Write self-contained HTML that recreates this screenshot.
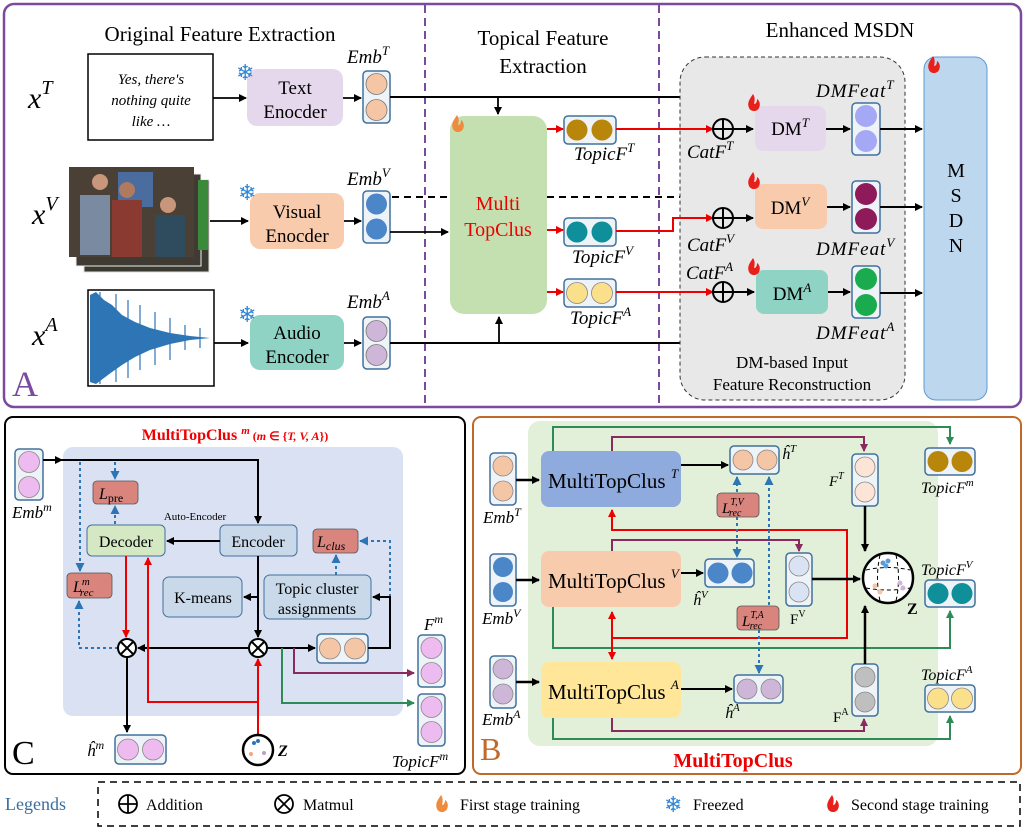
<!DOCTYPE html>
<html><head><meta charset="utf-8"><style>
html,body{margin:0;padding:0;background:#fff;}
svg{display:block;}
text{font-family:"Liberation Serif",serif;}
.it{font-style:italic;}
</style></head><body>
<svg width="1025" height="831" viewBox="0 0 1025 831" xmlns="http://www.w3.org/2000/svg">
<defs>
<marker id="ak" markerWidth="8" markerHeight="8" refX="7" refY="4" orient="auto" markerUnits="userSpaceOnUse"><path d="M0,0L8,4L0,8z" fill="#000"/></marker>
<marker id="ar" markerWidth="8" markerHeight="8" refX="7" refY="4" orient="auto" markerUnits="userSpaceOnUse"><path d="M0,0L8,4L0,8z" fill="#e00"/></marker>
<marker id="arS" markerWidth="8" markerHeight="8" refX="1" refY="4" orient="auto" markerUnits="userSpaceOnUse"><path d="M8,0L0,4L8,8z" fill="#e00"/></marker>
<marker id="ab" markerWidth="9" markerHeight="9" refX="8" refY="4.5" orient="auto" markerUnits="userSpaceOnUse"><path d="M0,0L9,4.5L0,9z" fill="#2e75b6"/></marker>
<marker id="abS" markerWidth="9" markerHeight="9" refX="1" refY="4.5" orient="auto" markerUnits="userSpaceOnUse"><path d="M9,0L0,4.5L9,9z" fill="#2e75b6"/></marker>
<marker id="ap" markerWidth="8" markerHeight="8" refX="7" refY="4" orient="auto" markerUnits="userSpaceOnUse"><path d="M0,0L8,4L0,8z" fill="#8b2a5e"/></marker>
<marker id="ag" markerWidth="8" markerHeight="8" refX="7" refY="4" orient="auto" markerUnits="userSpaceOnUse"><path d="M0,0L8,4L0,8z" fill="#2e8b57"/></marker>
<g id="flame"><path d="M6,0 C2,6 0,9 2,14 C4,18 10,18 12,14 C14,10 12,6 10,5 C10,8 9,10 7,10 C8,6 8,3 6,0z" fill="#e8201b"/></g>
<g id="flameo"><path d="M6,0 C2,6 0,9 2,14 C4,18 10,18 12,14 C14,10 12,6 10,5 C10,8 9,10 7,10 C8,6 8,3 6,0z" fill="#f08a3c"/></g>
</defs>

<!-- ============ PANEL A ============ -->
<rect x="4" y="4" width="1017" height="403" rx="10" fill="#fff" stroke="#7a4a9e" stroke-width="2.5"/>
<line x1="425" y1="5" x2="425" y2="406" stroke="#7a4a9e" stroke-width="2" stroke-dasharray="8,5"/>
<line x1="659" y1="5" x2="659" y2="406" stroke="#7a4a9e" stroke-width="2" stroke-dasharray="8,5"/>
<text x="220" y="41" font-size="21" text-anchor="middle">Original Feature Extraction</text>
<text x="543" y="45" font-size="21" text-anchor="middle">Topical Feature</text>
<text x="543" y="73" font-size="21" text-anchor="middle">Extraction</text>
<text x="840" y="37" font-size="21" text-anchor="middle">Enhanced MSDN</text>
<text x="12" y="396" font-size="36" fill="#7a4a9e">A</text>

<text x="28" y="108" font-size="30" class="it">x<tspan font-size="20" dy="-14">T</tspan></text>
<text x="32" y="224" font-size="30" class="it">x<tspan font-size="20" dy="-14">V</tspan></text>
<text x="32" y="345" font-size="30" class="it">x<tspan font-size="20" dy="-14">A</tspan></text>

<!-- text input -->
<rect x="88" y="54" width="125" height="86" fill="#fff" stroke="#000" stroke-width="1.5"/>
<text x="151" y="84" font-size="15" class="it" text-anchor="middle">Yes, there's</text>
<text x="151" y="105" font-size="15" class="it" text-anchor="middle">nothing quite</text>
<text x="151" y="126" font-size="15" class="it" text-anchor="middle">like …</text>
<line x1="213" y1="98" x2="246" y2="98" stroke="#000" stroke-width="1.8" marker-end="url(#ak)"/>
<rect x="247" y="69" width="96" height="57" rx="10" fill="#e6d8ec"/>
<text x="295" y="94" font-size="19" text-anchor="middle">Text</text>
<text x="295" y="118" font-size="19" text-anchor="middle">Enocder</text>
<text x="236" y="80" font-size="22" fill="#2e86d6">❄</text>

<!-- video -->
<rect x="84" y="180" width="125" height="92" fill="#3a3a30" stroke="#ddd"/>
<rect x="76" y="174" width="125" height="92" fill="#3f3a32" stroke="#eee"/>
<rect x="69" y="167" width="125" height="90" fill="#4a4036"/>
<rect x="118" y="172" width="35" height="35" fill="#4a6c9e"/>
<rect x="80" y="195" width="30" height="60" fill="#7a8aa0"/>
<rect x="112" y="200" width="30" height="57" fill="#8a3a30"/>
<rect x="155" y="215" width="30" height="42" fill="#2e4c5e"/>
<circle cx="100" cy="182" r="8" fill="#c8967a"/><circle cx="127" cy="190" r="8" fill="#b07a60"/><circle cx="168" cy="205" r="8" fill="#c8967a"/>
<rect x="198" y="180" width="10" height="70" fill="#3a8a3a"/>
<line x1="210" y1="221" x2="248" y2="221" stroke="#000" stroke-width="1.8" marker-end="url(#ak)"/>
<rect x="250" y="193" width="94" height="56" rx="10" fill="#f8cbad"/>
<text x="297" y="218" font-size="19" text-anchor="middle">Visual</text>
<text x="297" y="242" font-size="19" text-anchor="middle">Enocder</text>
<text x="238" y="200" font-size="22" fill="#2e86d6">❄</text>

<!-- audio -->
<rect x="88" y="290" width="126" height="96" fill="#fff" stroke="#000" stroke-width="1.5"/>
<path d="M90,295 L96,292 L104,300 L112,305 L122,315 L135,322 L150,328 L170,333 L190,336 L210,338 L190,340 L170,344 L150,350 L135,357 L122,365 L112,372 L104,378 L96,384 L90,382 Z" fill="#2e75b6"/>
<g stroke="#2e75b6" stroke-width="1.2">
<line x1="100" y1="292" x2="100" y2="384"/><line x1="116" y1="294" x2="116" y2="382"/><line x1="128" y1="300" x2="128" y2="378"/><line x1="140" y1="305" x2="140" y2="370"/><line x1="155" y1="312" x2="155" y2="365"/><line x1="170" y1="318" x2="170" y2="360"/><line x1="185" y1="325" x2="185" y2="350"/><line x1="200" y1="328" x2="200" y2="348"/>
</g>
<line x1="214" y1="343" x2="248" y2="343" stroke="#000" stroke-width="1.8" marker-end="url(#ak)"/>
<rect x="250" y="315" width="94" height="55" rx="10" fill="#8fd3c4"/>
<text x="297" y="339" font-size="19" text-anchor="middle">Audio</text>
<text x="297" y="363" font-size="19" text-anchor="middle">Encoder</text>
<text x="238" y="322" font-size="22" fill="#2e86d6">❄</text>

<!-- Emb vectors A -->
<line x1="343" y1="98" x2="361" y2="98" stroke="#000" stroke-width="1.8" marker-end="url(#ak)"/>
<line x1="344" y1="221" x2="361" y2="221" stroke="#000" stroke-width="1.8" marker-end="url(#ak)"/>
<line x1="344" y1="343" x2="361" y2="343" stroke="#000" stroke-width="1.8" marker-end="url(#ak)"/>
<text x="347" y="63" font-size="19" class="it">Emb<tspan font-size="13" dy="-8">T</tspan></text>
<text x="347" y="185" font-size="19" class="it">Emb<tspan font-size="13" dy="-8">V</tspan></text>
<text x="347" y="308" font-size="19" class="it">Emb<tspan font-size="13" dy="-8">A</tspan></text>
<rect x="363" y="71" width="27" height="52" rx="4" fill="#eef3f8" stroke="#41719c" stroke-width="1.5"/>
<circle cx="376.5" cy="84" r="10.5" fill="#f5c6a5" stroke="#777" stroke-width=".8"/><circle cx="376.5" cy="110" r="10.5" fill="#f5c6a5" stroke="#777" stroke-width=".8"/>
<rect x="363" y="191" width="27" height="52" rx="4" fill="#eef3f8" stroke="#41719c" stroke-width="1.5"/>
<circle cx="376.5" cy="204" r="10.5" fill="#4a86c8"/><circle cx="376.5" cy="229" r="10.5" fill="#4a86c8"/>
<rect x="363" y="317" width="27" height="52" rx="4" fill="#eef3f8" stroke="#41719c" stroke-width="1.5"/>
<circle cx="376.5" cy="331" r="10.5" fill="#cdb6d8" stroke="#777" stroke-width=".8"/><circle cx="376.5" cy="355" r="10.5" fill="#cdb6d8" stroke="#777" stroke-width=".8"/>

<!-- MultiTopClus A -->
<rect x="450" y="116" width="97" height="198" rx="14" fill="#c5e0b0"/>
<text x="498" y="210" font-size="20" fill="#e00" text-anchor="middle">Multi</text>
<text x="498" y="236" font-size="20" fill="#e00" text-anchor="middle">TopClus</text>
<use href="#flameo" x="451" y="115"/>
<polyline points="390,97 723,97 723,119" fill="none" stroke="#000" stroke-width="2" marker-end="url(#ak)"/>
<line x1="498" y1="97" x2="498" y2="114" stroke="#000" stroke-width="1.8" marker-end="url(#ak)"/>
<line x1="392" y1="197" x2="448" y2="197" stroke="#000" stroke-width="2" stroke-dasharray="7,5"/>
<line x1="547" y1="197" x2="723" y2="197" stroke="#000" stroke-width="2" stroke-dasharray="7,5"/>
<line x1="723" y1="197" x2="723" y2="208" stroke="#666" stroke-width="1.2" marker-end="url(#ak)"/>
<line x1="390" y1="232" x2="448" y2="232" stroke="#000" stroke-width="1.8" marker-end="url(#ak)"/>
<polyline points="390,343 723,343 723,302" fill="none" stroke="#000" stroke-width="2" marker-end="url(#ak)"/>
<line x1="499" y1="343" x2="499" y2="317" stroke="#000" stroke-width="1.8" marker-end="url(#ak)"/>

<!-- TopicF A -->
<line x1="547" y1="129" x2="563" y2="129" stroke="#e00" stroke-width="2" marker-end="url(#ar)"/>
<line x1="547" y1="230" x2="563" y2="230" stroke="#e00" stroke-width="2" marker-end="url(#ar)"/>
<line x1="547" y1="292" x2="563" y2="292" stroke="#e00" stroke-width="2" marker-end="url(#ar)"/>
<rect x="564" y="116" width="52" height="28" rx="4" fill="#eef3f8" stroke="#41719c" stroke-width="1.5"/>
<circle cx="577" cy="130" r="10.5" fill="#b8860b"/><circle cx="602" cy="130" r="10.5" fill="#b8860b"/>
<rect x="564" y="218" width="52" height="28" rx="4" fill="#eef3f8" stroke="#41719c" stroke-width="1.5"/>
<circle cx="577" cy="232" r="10.5" fill="#0e8f9a"/><circle cx="602" cy="232" r="10.5" fill="#0e8f9a"/>
<rect x="564" y="279" width="52" height="28" rx="4" fill="#eef3f8" stroke="#41719c" stroke-width="1.5"/>
<circle cx="577" cy="293" r="10.5" fill="#fbe08c" stroke="#888" stroke-width=".8"/><circle cx="602" cy="293" r="10.5" fill="#fbe08c" stroke="#888" stroke-width=".8"/>
<text x="574" y="160" font-size="19" class="it">TopicF<tspan font-size="13" dy="-8">T</tspan></text>
<text x="572" y="263" font-size="19" class="it">TopicF<tspan font-size="13" dy="-8">V</tspan></text>
<text x="570" y="324" font-size="19" class="it">TopicF<tspan font-size="13" dy="-8">A</tspan></text>

<!-- Enhanced MSDN -->
<rect x="680" y="57" width="225" height="343" rx="25" fill="#e8e8e8" stroke="#333" stroke-width="1" stroke-dasharray="4,3"/>
<line x1="616" y1="129" x2="713" y2="129" stroke="#e00" stroke-width="2" marker-end="url(#ar)"/>
<polyline points="616,231 673,231 673,218 713,218" fill="none" stroke="#e00" stroke-width="2" marker-end="url(#ar)"/>
<line x1="616" y1="292" x2="713" y2="292" stroke="#e00" stroke-width="2" marker-end="url(#ar)"/>
<g fill="none" stroke="#000" stroke-width="2">
<circle cx="723" cy="129" r="10"/><line x1="713" y1="129" x2="733" y2="129"/><line x1="723" y1="119" x2="723" y2="139"/>
<circle cx="723" cy="218" r="10"/><line x1="713" y1="218" x2="733" y2="218"/><line x1="723" y1="208" x2="723" y2="228"/>
<circle cx="723" cy="292" r="10"/><line x1="713" y1="292" x2="733" y2="292"/><line x1="723" y1="282" x2="723" y2="302"/>
</g>
<text x="687" y="158" font-size="19" class="it">CatF<tspan font-size="13" dy="-8">T</tspan></text>
<text x="687" y="251" font-size="19" class="it">CatF<tspan font-size="13" dy="-8">V</tspan></text>
<text x="686" y="279" font-size="19" class="it">CatF<tspan font-size="13" dy="-8">A</tspan></text>
<line x1="733" y1="129" x2="753" y2="129" stroke="#000" stroke-width="2" marker-end="url(#ak)"/>
<line x1="733" y1="218" x2="753" y2="218" stroke="#000" stroke-width="2" marker-end="url(#ak)"/>
<line x1="733" y1="292" x2="754" y2="292" stroke="#000" stroke-width="2" marker-end="url(#ak)"/>
<rect x="755" y="106" width="71" height="45" rx="8" fill="#e6d8ec"/>
<rect x="755" y="184" width="72" height="45" rx="8" fill="#f8cbad"/>
<rect x="756" y="270" width="72" height="44" rx="8" fill="#8fd3c4"/>
<text x="790" y="135" font-size="19" text-anchor="middle">DM<tspan font-size="13" dy="-8" class="it">T</tspan></text>
<text x="790" y="214" font-size="19" text-anchor="middle">DM<tspan font-size="13" dy="-8" class="it">V</tspan></text>
<text x="792" y="300" font-size="19" text-anchor="middle">DM<tspan font-size="13" dy="-8" class="it">A</tspan></text>
<use href="#flame" x="747" y="94"/><use href="#flame" x="747" y="172"/><use href="#flame" x="747" y="258"/>
<line x1="826" y1="129" x2="850" y2="129" stroke="#000" stroke-width="2" marker-end="url(#ak)"/>
<line x1="827" y1="207" x2="850" y2="207" stroke="#000" stroke-width="2" marker-end="url(#ak)"/>
<line x1="828" y1="292" x2="850" y2="292" stroke="#000" stroke-width="2" marker-end="url(#ak)"/>
<rect x="852" y="103" width="28" height="52" rx="4" fill="#eef3f8" stroke="#41719c" stroke-width="1.5"/>
<circle cx="866" cy="116" r="11" fill="#a5a8f5"/><circle cx="866" cy="141" r="11" fill="#a5a8f5"/>
<rect x="852" y="181" width="28" height="52" rx="4" fill="#eef3f8" stroke="#41719c" stroke-width="1.5"/>
<circle cx="866" cy="194" r="11" fill="#8e1a5a"/><circle cx="866" cy="219" r="11" fill="#8e1a5a"/>
<rect x="852" y="266" width="28" height="52" rx="4" fill="#eef3f8" stroke="#41719c" stroke-width="1.5"/>
<circle cx="866" cy="279" r="11" fill="#1aab4f"/><circle cx="866" cy="305" r="11" fill="#1aab4f"/>
<text x="816" y="97" font-size="19" class="it" letter-spacing="1">DMFeat<tspan font-size="13" dy="-8">T</tspan></text>
<text x="816" y="255" font-size="19" class="it" letter-spacing="1">DMFeat<tspan font-size="13" dy="-8">V</tspan></text>
<text x="816" y="339" font-size="19" class="it" letter-spacing="1">DMFeat<tspan font-size="13" dy="-8">A</tspan></text>
<text x="792" y="368" font-size="17" text-anchor="middle">DM-based Input</text>
<text x="792" y="390" font-size="17" text-anchor="middle">Feature Reconstruction</text>
<line x1="880" y1="129" x2="922" y2="129" stroke="#000" stroke-width="2" marker-end="url(#ak)"/>
<line x1="880" y1="207" x2="922" y2="207" stroke="#000" stroke-width="2" marker-end="url(#ak)"/>
<line x1="880" y1="293" x2="922" y2="293" stroke="#000" stroke-width="2" marker-end="url(#ak)"/>
<rect x="924" y="57" width="63" height="343" rx="12" fill="#bdd7ee" stroke="#5b9bd5" stroke-width="1"/>
<use href="#flame" x="927" y="56"/>
<text x="956" y="177" font-size="20" text-anchor="middle">M</text>
<text x="956" y="202" font-size="20" text-anchor="middle">S</text>
<text x="956" y="227" font-size="20" text-anchor="middle">D</text>
<text x="956" y="252" font-size="20" text-anchor="middle">N</text>

<!-- ============ PANEL C ============ -->
<rect x="5" y="417" width="460" height="357" rx="8" fill="#fff" stroke="#000" stroke-width="2"/>
<rect x="63" y="447" width="340" height="269" rx="10" fill="#d9e1f2"/>
<text x="235" y="440" font-size="16" font-weight="bold" fill="#e00" text-anchor="middle">MultiTopClus <tspan font-size="11" dy="-6" class="it">m</tspan><tspan font-size="12" dy="6"> (<tspan class="it">m</tspan> ∈ {<tspan class="it">T, V, A</tspan>})</tspan></text>
<rect x="15" y="449" width="28" height="51" rx="4" fill="#eef3f8" stroke="#41719c" stroke-width="1.5"/>
<circle cx="29" cy="462" r="10.5" fill="#eebbf0" stroke="#888" stroke-width=".8"/><circle cx="29" cy="487" r="10.5" fill="#eebbf0" stroke="#888" stroke-width=".8"/>
<text x="12" y="518" font-size="17" class="it">Emb<tspan font-size="12" dy="-7">m</tspan></text>
<polyline points="43,460 258,460 258,523" fill="none" stroke="#000" stroke-width="2" marker-end="url(#ak)"/>
<line x1="46" y1="460" x2="62" y2="460" stroke="#000" stroke-width="2" marker-end="url(#ak)"/>
<text x="195" y="520" font-size="11" text-anchor="middle">Auto-Encoder</text>
<rect x="220" y="525" width="77" height="31" rx="5" fill="#c9d9ea" stroke="#41719c" stroke-width="1"/>
<text x="258" y="547" font-size="16" text-anchor="middle">Encoder</text>
<rect x="87" y="525" width="78" height="31" rx="5" fill="#d5e8c4" stroke="#41719c" stroke-width="1"/>
<text x="126" y="547" font-size="16" text-anchor="middle">Decoder</text>
<line x1="220" y1="541" x2="167" y2="541" stroke="#000" stroke-width="2" marker-end="url(#ak)"/>
<rect x="93" y="481" width="45" height="23" rx="4" fill="#d9857e" stroke="#555" stroke-width=".8"/>
<text x="99" y="499" font-size="16" class="it">L<tspan font-size="12" font-style="normal" dy="3">pre</tspan></text>
<g stroke="#2e75b6" stroke-width="2" stroke-dasharray="3,3" fill="none">
<line x1="115" y1="462" x2="115" y2="479" marker-end="url(#ab)"/>
<line x1="115" y1="524" x2="115" y2="506" marker-end="url(#ab)"/>
<line x1="80" y1="462" x2="80" y2="571" marker-end="url(#ab)"/>
<polyline points="118,648 79,648 79,601" marker-end="url(#ab)"/>
<line x1="336" y1="575" x2="336" y2="555" marker-end="url(#ab)"/>
<polyline points="390,597 390,541 360,541" marker-end="url(#ab)"/>
</g>
<rect x="67" y="573" width="45" height="25" rx="4" fill="#d9857e" stroke="#555" stroke-width=".8"/>
<text x="73" y="592" font-size="16" class="it">L<tspan font-size="11" dy="-7">m</tspan><tspan font-size="11" dx="-10" dy="11">rec</tspan></text>
<rect x="313" y="529" width="45" height="24" rx="4" fill="#d9857e" stroke="#555" stroke-width=".8"/>
<text x="317" y="547" font-size="16" class="it">L<tspan font-size="12" dy="3">clus</tspan></text>
<rect x="163" y="577" width="79" height="40" rx="6" fill="#c9d9ea" stroke="#41719c" stroke-width="1"/>
<text x="203" y="603" font-size="16" text-anchor="middle">K-means</text>
<rect x="264" y="575" width="107" height="44" rx="6" fill="#c9d9ea" stroke="#41719c" stroke-width="1"/>
<text x="317" y="594" font-size="16" text-anchor="middle">Topic cluster</text>
<text x="317" y="614" font-size="16" text-anchor="middle">assignments</text>
<line x1="258" y1="556" x2="258" y2="637" stroke="#000" stroke-width="2" marker-end="url(#ak)"/>
<line x1="258" y1="597" x2="244" y2="597" stroke="#000" stroke-width="2" marker-end="url(#ak)"/>
<line x1="267" y1="648" x2="315" y2="648" stroke="#000" stroke-width="2" marker-end="url(#ak)"/>
<rect x="317" y="634" width="51" height="29" rx="4" fill="#eef3f8" stroke="#41719c" stroke-width="1.5"/>
<circle cx="330" cy="648.5" r="10.5" fill="#f5c6a5" stroke="#888" stroke-width=".8"/><circle cx="355" cy="648.5" r="10.5" fill="#f5c6a5" stroke="#888" stroke-width=".8"/>
<polyline points="368,648 390,648 390,597 373,597" fill="none" stroke="#000" stroke-width="2" marker-end="url(#ak)"/>
<line x1="249" y1="648" x2="138" y2="648" stroke="#000" stroke-width="2" marker-end="url(#ak)"/>
<line x1="126" y1="556" x2="126" y2="637" stroke="#e00" stroke-width="2" marker-end="url(#ar)"/>
<polyline points="258,735 258,702 148,702 148,558" fill="none" stroke="#e00" stroke-width="2" marker-end="url(#ar)"/>
<line x1="258" y1="702" x2="258" y2="659" stroke="#e00" stroke-width="2" marker-end="url(#ar)"/>
<g fill="#fff" stroke="#000" stroke-width="2">
<circle cx="127" cy="648" r="9"/><circle cx="258" cy="648" r="9"/>
</g>
<g stroke="#000" stroke-width="2"><line x1="121" y1="642" x2="133" y2="654"/><line x1="133" y1="642" x2="121" y2="654"/><line x1="252" y1="642" x2="264" y2="654"/><line x1="264" y1="642" x2="252" y2="654"/></g>
<line x1="127" y1="657" x2="127" y2="732" stroke="#000" stroke-width="2" marker-end="url(#ak)"/>
<rect x="115" y="735" width="51" height="29" rx="4" fill="#eef3f8" stroke="#41719c" stroke-width="1.5"/>
<circle cx="128" cy="749.5" r="10.5" fill="#eebbf0" stroke="#888" stroke-width=".8"/><circle cx="153" cy="749.5" r="10.5" fill="#eebbf0" stroke="#888" stroke-width=".8"/>
<text x="87" y="756" font-size="17" class="it">ĥ<tspan font-size="12" dy="-7">m</tspan></text>
<circle cx="258" cy="750" r="15" fill="#fff" stroke="#000" stroke-width="2.5"/>
<circle cx="254" cy="743" r="2" fill="#2e75b6"/><circle cx="258" cy="741" r="2" fill="#2e75b6"/><circle cx="251" cy="754" r="2" fill="#f5a77a"/><circle cx="264" cy="753" r="2" fill="#b8a0c8"/>
<text x="278" y="756" font-size="16" font-weight="bold" class="it">Z</text>
<polyline points="294,648 294,673 414,673" fill="none" stroke="#8b2a5e" stroke-width="2" marker-end="url(#ap)"/>
<polyline points="282,648 282,703 414,703" fill="none" stroke="#2e8b57" stroke-width="2" marker-end="url(#ag)"/>
<rect x="418" y="635" width="27" height="52" rx="4" fill="#eef3f8" stroke="#41719c" stroke-width="1.5"/>
<circle cx="431.5" cy="648" r="10.5" fill="#eebbf0" stroke="#888" stroke-width=".8"/><circle cx="431.5" cy="673" r="10.5" fill="#eebbf0" stroke="#888" stroke-width=".8"/>
<rect x="418" y="694" width="27" height="52" rx="4" fill="#eef3f8" stroke="#41719c" stroke-width="1.5"/>
<circle cx="431.5" cy="707" r="10.5" fill="#eebbf0" stroke="#888" stroke-width=".8"/><circle cx="431.5" cy="732" r="10.5" fill="#eebbf0" stroke="#888" stroke-width=".8"/>
<text x="424" y="630" font-size="17" class="it">F<tspan font-size="12" dy="-7">m</tspan></text>
<text x="392" y="767" font-size="17" class="it">TopicF<tspan font-size="12" dy="-7">m</tspan></text>
<text x="12" y="764" font-size="34">C</text>

<!-- ============ PANEL B ============ -->
<rect x="473" y="417" width="548" height="357" rx="8" fill="#fff" stroke="#c0692a" stroke-width="2"/>
<rect x="528" y="421" width="410" height="325" rx="12" fill="#e2efd9"/>
<text x="480" y="760" font-size="32" fill="#c0692a">B</text>
<text x="733" y="767" font-size="20" font-weight="bold" fill="#e00" text-anchor="middle">MultiTopClus</text>

<!-- green and purple lines -->
<g fill="none" stroke="#2e8b57" stroke-width="2">
<polyline points="553,451 553,427 950,427 950,444" marker-end="url(#ag)"/>
<polyline points="553,607 553,648 950,648 950,611" marker-end="url(#ag)"/>
<polyline points="553,718 553,739 950,739 950,716" marker-end="url(#ag)"/>
</g>
<g fill="none" stroke="#8b2a5e" stroke-width="2">
<polyline points="612,451 612,437 864,437 864,451" marker-end="url(#ap)"/>
<polyline points="612,551 612,540 799,540 799,551" marker-end="url(#ap)"/>
<polyline points="612,718 612,731 864,731 864,719" marker-end="url(#ap)"/>
</g>
<g fill="none" stroke="#e00" stroke-width="2">
<polyline points="847,578 847,530 612,530 612,510" marker-end="url(#ar)"/>
<polyline points="847,578 847,638 612,638"/>
<line x1="612" y1="612" x2="612" y2="659" marker-start="url(#arS)" marker-end="url(#ar)"/>
</g>

<rect x="490" y="453" width="26" height="52" rx="4" fill="#eef3f8" stroke="#41719c" stroke-width="1.5"/>
<circle cx="503" cy="466" r="10" fill="#f5c6a5" stroke="#888" stroke-width=".8"/><circle cx="503" cy="491" r="10" fill="#f5c6a5" stroke="#888" stroke-width=".8"/>
<rect x="490" y="554" width="26" height="52" rx="4" fill="#eef3f8" stroke="#41719c" stroke-width="1.5"/>
<circle cx="503" cy="567" r="10" fill="#4a86c8"/><circle cx="503" cy="592" r="10" fill="#4a86c8"/>
<rect x="490" y="656" width="26" height="52" rx="4" fill="#eef3f8" stroke="#41719c" stroke-width="1.5"/>
<circle cx="503" cy="669" r="10" fill="#cdb6d8" stroke="#888" stroke-width=".8"/><circle cx="503" cy="694" r="10" fill="#cdb6d8" stroke="#888" stroke-width=".8"/>
<text x="483" y="523" font-size="17" class="it">Emb<tspan font-size="12" dy="-7">T</tspan></text>
<text x="482" y="624" font-size="17" class="it">Emb<tspan font-size="12" dy="-7">V</tspan></text>
<text x="482" y="725" font-size="17" class="it">Emb<tspan font-size="12" dy="-7">A</tspan></text>
<line x1="516" y1="480" x2="539" y2="480" stroke="#000" stroke-width="2.5" marker-end="url(#ak)"/>
<line x1="516" y1="580" x2="539" y2="580" stroke="#000" stroke-width="2.5" marker-end="url(#ak)"/>
<line x1="516" y1="682" x2="539" y2="682" stroke="#000" stroke-width="2.5" marker-end="url(#ak)"/>
<rect x="541" y="451" width="140" height="56" rx="8" fill="#8faadc"/>
<rect x="541" y="551" width="140" height="56" rx="8" fill="#f8cbad"/>
<rect x="541" y="662" width="140" height="56" rx="8" fill="#ffe699"/>
<text x="548" y="488" font-size="21">MultiTopClus <tspan font-size="13" dy="-10" class="it">T</tspan></text>
<text x="548" y="588" font-size="21">MultiTopClus <tspan font-size="13" dy="-10" class="it">V</tspan></text>
<text x="548" y="699" font-size="21">MultiTopClus <tspan font-size="13" dy="-10" class="it">A</tspan></text>
<line x1="681" y1="465" x2="728" y2="465" stroke="#000" stroke-width="2" marker-end="url(#ak)"/>
<line x1="681" y1="573" x2="703" y2="573" stroke="#000" stroke-width="2" marker-end="url(#ak)"/>
<line x1="681" y1="689" x2="732" y2="689" stroke="#000" stroke-width="2" marker-end="url(#ak)"/>
<rect x="730" y="446" width="49" height="28" rx="4" fill="#eef3f8" stroke="#41719c" stroke-width="1.5"/>
<circle cx="743" cy="460" r="10" fill="#f5c6a5" stroke="#888" stroke-width=".8"/><circle cx="767" cy="460" r="10" fill="#f5c6a5" stroke="#888" stroke-width=".8"/>
<rect x="705" y="559" width="49" height="28" rx="4" fill="#eef3f8" stroke="#41719c" stroke-width="1.5"/>
<circle cx="718" cy="573" r="10.5" fill="#4a86c8"/><circle cx="742" cy="573" r="10.5" fill="#4a86c8"/>
<rect x="734" y="675" width="49" height="28" rx="4" fill="#eef3f8" stroke="#41719c" stroke-width="1.5"/>
<circle cx="747" cy="689" r="10" fill="#cdb6d8" stroke="#888" stroke-width=".8"/><circle cx="771" cy="689" r="10" fill="#cdb6d8" stroke="#888" stroke-width=".8"/>
<text x="782" y="459" font-size="16" class="it">ĥ<tspan font-size="11" dy="-7">T</tspan></text>
<text x="693" y="605" font-size="16" class="it">ĥ<tspan font-size="11" dy="-7">V</tspan></text>
<text x="725" y="718" font-size="16" class="it">ĥ<tspan font-size="11" dy="-7">A</tspan></text>
<g stroke="#2e75b6" stroke-width="2" stroke-dasharray="3,3" fill="none">
<line x1="737" y1="492" x2="737" y2="477" marker-end="url(#ab)"/>
<line x1="737" y1="517" x2="737" y2="557" marker-end="url(#ab)"/>
<line x1="769" y1="605" x2="769" y2="477" marker-end="url(#ab)"/>
<line x1="759" y1="630" x2="759" y2="673" marker-end="url(#ab)"/>
</g>
<rect x="717" y="493" width="42" height="24" rx="4" fill="#d9857e" stroke="#555" stroke-width=".8"/>
<text x="722" y="513" font-size="15" class="it">L<tspan font-size="10" dy="-8">T,V</tspan><tspan font-size="10" dx="-14" dy="11">rec</tspan></text>
<rect x="737" y="606" width="42" height="24" rx="4" fill="#d9857e" stroke="#555" stroke-width=".8"/>
<text x="742" y="626" font-size="15" class="it">L<tspan font-size="10" dy="-8">T,A</tspan><tspan font-size="10" dx="-14" dy="11">rec</tspan></text>
<rect x="852" y="454" width="26" height="52" rx="4" fill="#eef3f8" stroke="#41719c" stroke-width="1.5"/>
<circle cx="865" cy="467" r="10" fill="#fce4d6" stroke="#888" stroke-width=".8"/><circle cx="865" cy="492" r="10" fill="#fce4d6" stroke="#888" stroke-width=".8"/>
<rect x="786" y="553" width="26" height="53" rx="4" fill="#eef3f8" stroke="#41719c" stroke-width="1.5"/>
<circle cx="799" cy="566" r="10" fill="#dae3f3" stroke="#888" stroke-width=".8"/><circle cx="799" cy="592" r="10" fill="#dae3f3" stroke="#888" stroke-width=".8"/>
<rect x="852" y="664" width="26" height="52" rx="4" fill="#eef3f8" stroke="#41719c" stroke-width="1.5"/>
<circle cx="865" cy="677" r="10" fill="#bfbfbf" stroke="#888" stroke-width=".8"/><circle cx="865" cy="702" r="10" fill="#bfbfbf" stroke="#888" stroke-width=".8"/>
<text x="829" y="486" font-size="15" class="it">F<tspan font-size="10" dy="-7">T</tspan></text>
<text x="790" y="624" font-size="15">F<tspan font-size="10" dy="-7">V</tspan></text>
<text x="833" y="722" font-size="15">F<tspan font-size="10" dy="-7">A</tspan></text>
<line x1="865" y1="506" x2="865" y2="551" stroke="#000" stroke-width="2.5" marker-end="url(#ak)"/>
<line x1="812" y1="579" x2="860" y2="579" stroke="#000" stroke-width="2.5" marker-end="url(#ak)"/>
<line x1="865" y1="664" x2="865" y2="606" stroke="#000" stroke-width="2.5" marker-end="url(#ak)"/>
<circle cx="888" cy="578" r="25" fill="#fff" stroke="#000" stroke-width="2.5"/>
<g stroke="#000" stroke-width="1" stroke-dasharray="4,3" fill="none"><path d="M866,570 Q888,565 910,570"/><path d="M866,588 Q888,592 910,588"/><path d="M880,555 Q875,578 880,601"/><path d="M896,555 Q901,578 896,601"/></g>
<circle cx="883" cy="563" r="2.5" fill="#5b9bd5"/><circle cx="888" cy="561" r="2.5" fill="#5b9bd5"/><circle cx="886" cy="566" r="2.5" fill="#5b9bd5"/>
<circle cx="875" cy="586" r="2.5" fill="#f5c6a5"/><circle cx="880" cy="592" r="2.5" fill="#f5c6a5"/>
<circle cx="900" cy="583" r="2.5" fill="#cdb6d8"/><circle cx="903" cy="588" r="2.5" fill="#cdb6d8"/>
<text x="907" y="614" font-size="16" font-weight="bold">Z</text>
<rect x="925" y="448" width="50" height="27" rx="4" fill="#eef3f8" stroke="#41719c" stroke-width="1.5"/>
<circle cx="938" cy="461.5" r="10.5" fill="#b8860b"/><circle cx="962" cy="461.5" r="10.5" fill="#b8860b"/>
<rect x="925" y="580" width="50" height="27" rx="4" fill="#eef3f8" stroke="#41719c" stroke-width="1.5"/>
<circle cx="938" cy="593.5" r="10.5" fill="#0e8f9a"/><circle cx="962" cy="593.5" r="10.5" fill="#0e8f9a"/>
<rect x="925" y="685" width="50" height="27" rx="4" fill="#eef3f8" stroke="#41719c" stroke-width="1.5"/>
<circle cx="938" cy="698.5" r="10.5" fill="#fbe08c" stroke="#888" stroke-width=".8"/><circle cx="962" cy="698.5" r="10.5" fill="#fbe08c" stroke="#888" stroke-width=".8"/>
<text x="921" y="493" font-size="16" class="it">TopicF<tspan font-size="11" dy="-7">m</tspan></text>
<text x="921" y="575" font-size="16" class="it">TopicF<tspan font-size="11" dy="-7">V</tspan></text>
<text x="921" y="680" font-size="16" class="it">TopicF<tspan font-size="11" dy="-7">A</tspan></text>

<!-- ============ LEGEND ============ -->
<text x="5" y="810" font-size="18" fill="#3a6e9e">Legends</text>
<rect x="98" y="782" width="922" height="44" fill="none" stroke="#000" stroke-width="1.5" stroke-dasharray="7,5"/>
<g fill="none" stroke="#000" stroke-width="1.8">
<circle cx="128" cy="804" r="9"/><line x1="119" y1="804" x2="137" y2="804"/><line x1="128" y1="795" x2="128" y2="813"/>
<circle cx="284" cy="804" r="9"/><line x1="278" y1="798" x2="290" y2="810"/><line x1="290" y1="798" x2="278" y2="810"/>
</g>
<text x="146" y="810" font-size="16">Addition</text>
<text x="303" y="810" font-size="16">Matmul</text>
<use href="#flameo" x="435" y="795"/>
<text x="460" y="810" font-size="16">First stage training</text>
<text x="664" y="812" font-size="22" fill="#2e86d6">❄</text>
<text x="693" y="810" font-size="16">Freezed</text>
<use href="#flame" x="826" y="795"/>
<text x="851" y="810" font-size="16">Second stage training</text>
</svg>
</body></html>
